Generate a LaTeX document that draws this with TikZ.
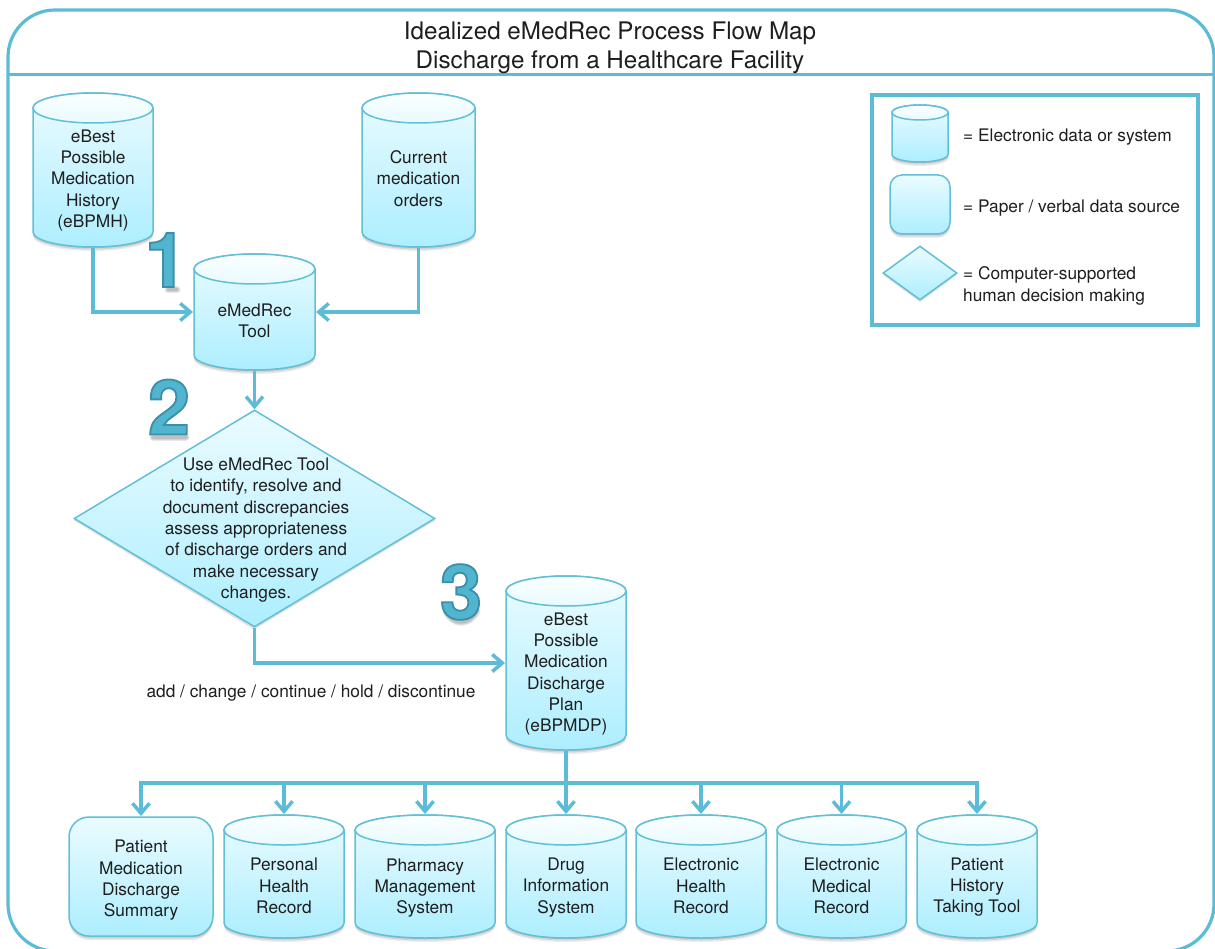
\documentclass[tikz,border=0pt]{standalone}
\usepackage{fontspec}
\setmainfont{TeX Gyre Heros}
\newfontfamily\numfont[FakeBold=2.4]{TeX Gyre Heros Bold}
\usetikzlibrary{arrows.meta,shapes.geometric}
\definecolor{edge}{HTML}{5CBBD6}
\definecolor{shapeline}{HTML}{62BFD8}
\definecolor{shtop}{HTML}{EAFBFF}
\definecolor{shbot}{HTML}{ADEEFF}
\definecolor{lidtop}{HTML}{E8FAFE}
\definecolor{lidbot}{HTML}{FBFFFF}
\definecolor{ink}{HTML}{1E1E1E}
\tikzset{
  x=1pt,y=-1pt,
  conn/.style={draw=edge,line width=3.5pt,line join=miter},
  flow/.style={conn,-{Straight Barb[length=10pt,width=17pt,line width=3.5pt]}},
  bodyfill/.style={draw=shapeline,line width=1.5pt,top color=shtop,bottom color=shbot,shading angle=0},
  lidfill/.style={draw=shapeline,line width=1.5pt,top color=lidbot,bottom color=lidtop},
  anchorbox/.style={inner sep=0pt,outer sep=1pt},
  txt/.style={font=\fontsize{17.3}{21.35}\selectfont,text=ink,align=center,inner sep=0pt},
  legendtxt/.style={font=\fontsize{17.3}{22}\selectfont,text=ink,align=left,inner sep=0pt,anchor=west},
  titletxt/.style={font=\fontsize{24.2}{29}\selectfont,text=ink,align=center,inner sep=0pt},
  bignum/.style={font=\fontsize{76}{76}\numfont,inner sep=0pt},
  numshadow/.style={draw=black,opacity=.09,line cap=round},
}
\newcommand{\cylshape}[6]{%
  \pgfmathsetmacro{\cx}{(#2+#4)/2}\pgfmathsetmacro{\crx}{(#4-#2)/2}%
  \pgfmathsetmacro{\ctop}{#3+#6}\pgfmathsetmacro{\cbot}{#5-#6}%
  \foreach \sh/\op in {1/.10,2.5/.10,4/.08}{%
    \fill[black,opacity=\op,yshift=-\sh pt]
      (#2,\ctop) -- (#2,\cbot) arc[start angle=180,end angle=360,x radius=\crx,y radius=-#6] -- (#4,\ctop) -- cycle;}
  \path[bodyfill] (#2,\ctop) -- (#2,\cbot) arc[start angle=180,end angle=360,x radius=\crx,y radius=-#6] -- (#4,\ctop) arc[start angle=0,end angle=180,x radius=\crx,y radius=-#6] -- cycle;
  \path[lidfill] (\cx,\ctop) ellipse[x radius=\crx,y radius=#6];
  \node[anchorbox,minimum width=#4-#2,minimum height=#5-#3] (#1) at (\cx,{(#3+#5)/2}) {};
}
\newcommand{\boxshape}[6]{%
  \pgfmathsetmacro{\cx}{(#2+#4)/2}%
  \foreach \sh/\op in {1/.10,2.5/.10,4/.08}{%
    \fill[black,opacity=\op,rounded corners=#6 pt,yshift=-\sh pt] (#2,#3) rectangle (#4,#5);}
  \path[bodyfill,rounded corners=#6 pt] (#2,#3) rectangle (#4,#5);
  \node[anchorbox,minimum width=#4-#2,minimum height=#5-#3] (#1) at (\cx,{(#3+#5)/2}) {};
}
\newcommand{\digit}[4]{%
  \node[bignum] (#1) at (#2,#3) {\special{pdf:bcolor [0.32 0.71 0.81] [0.23 0.56 0.66]}#4\special{pdf:ecolor}};
}
\begin{document}
\begin{tikzpicture}
\useasboundingbox (0,0) rectangle (1215,949);
\fill[white] (0,0) rectangle (1215,949);
\begin{scope}
\clip (0,0) rectangle (1215,949);
\draw[edge,line width=3.2pt,rounded corners=47pt] (8,10) rectangle (1214,951);
\end{scope}
\coordinate (hl) at (8,75);
\coordinate (hr) at (1214,75);
\draw[conn,line width=3pt] (hl) -- (hr);
\node[titletxt] (title) at (610,48) {Idealized eMedRec Process Flow Map\\Discharge from a Healthcare Facility};

% legend
\draw[edge,line width=3.5pt] (872,95) rectangle (1198,325);
\cylshape{legcyl}{892}{105}{948}{162}{7.5}
\boxshape{legbox}{890}{175}{950}{234}{12}
\fill[black,opacity=.12,yshift=-2pt] (883,273) -- (920,246) -- (957,273) -- (920,300) -- cycle;
\node[diamond,draw=shapeline,line width=1.5pt,top color=shtop,bottom color=shbot,minimum width=74pt,minimum height=54pt,inner sep=0pt,aspect=1.37] (legdia) at (920,273) {};
\node[legendtxt] (leg1) at (963,137) {= Electronic data or system};
\node[legendtxt] (leg2) at (963,208) {= Paper / verbal data source};
\node[legendtxt] (leg3) at (963,286) {= Computer-supported\\human decision making};

% upper shapes
\cylshape{bpmh}{33}{93}{153}{247}{15}
\node[txt] (bpmht) at (93,180.5) {eBest\\Possible\\Medication\\History\\(eBPMH)};
\cylshape{cmo}{362}{93}{475}{247}{15}
\node[txt] (cmot) at (418.5,178.5) {Current\\medication\\orders};
\cylshape{tool}{194}{254}{315}{370}{15}
\node[txt] (toolt) at (254.5,321) {eMedRec\\Tool};

% decision
\fill[black,opacity=.12,yshift=-2.5pt] (74,518) -- (254,410) -- (435,518) -- (254,627) -- cycle;
\node[diamond,draw=shapeline,line width=1.5pt,top color=shtop,bottom color=shbot,minimum width=361pt,minimum height=217pt,inner sep=0pt,aspect=1.66] (dec) at (254.5,518.5) {};
\node[txt] (dect) at (256,530) {Use eMedRec Tool\\to identify, resolve and\\document discrepancies\\assess appropriateness\\of discharge orders and\\make necessary\\changes.};

% plan
\cylshape{plan}{506}{576}{626}{750}{15}
\node[txt] (plant) at (566,674) {eBest\\Possible\\Medication\\Discharge\\Plan\\(eBPMDP)};
\node[txt] (actions) at (311,693) {add / change / continue / hold / discontinue};

% bottom row
\boxshape{pmds}{69}{817}{213}{936}{20}
\node[txt] (pmdst) at (141,880.5) {Patient\\Medication\\Discharge\\Summary};
\cylshape{phr}{224}{815}{344}{938}{15}
\node[txt] (phrt) at (284,886) {Personal\\Health\\Record};
\cylshape{pms}{355}{815}{495}{938}{15}
\node[txt] (pmst) at (425,888) {Pharmacy\\Management\\System};
\cylshape{dis}{506}{815}{626}{938}{15}
\node[txt] (dist) at (566,887.5) {Drug\\Information\\System};
\cylshape{ehr}{636}{815}{766}{938}{15}
\node[txt] (ehrt) at (701,886) {Electronic\\Health\\Record};
\cylshape{emr}{777}{815}{906}{938}{15}
\node[txt] (emrt) at (841.5,886) {Electronic\\Medical\\Record};
\cylshape{phtt}{917}{815}{1037}{938}{15}
\node[txt] (phttt) at (977,887) {Patient\\History\\Taking Tool};

% numeral shadows (soft edge under each numeral)
\foreach \w in {3,5,7}{
  \draw[numshadow,line width=\w pt] (168,290) -- (177,290);
  \draw[numshadow,line width=\w pt] (153,437) -- (186,437);
  \draw[numshadow,line width=\w pt] (446,611) .. controls (452,626) and (470,626) .. (477,611);
}
\digit{one}{166}{260}{1}
\digit{two}{169}{407}{2}
\digit{three}{461}{592}{3}

% connectors
\draw[flow] (bpmh.south) |- (tool.west);
\draw[flow] (cmo.south) |- (tool.east);
\draw[flow] (tool.south) -- (dec.north);
\draw[flow] (dec.south) |- (plan.west);
\coordinate (bus) at (566,783);
\draw[conn] (plan.south) -- (bus);
\draw[conn,line cap=rect] (pmds.north |- bus) -- (phtt.north |- bus);
\foreach \t in {pmds,phr,pms,dis,ehr,emr,phtt}{\draw[flow] (\t.north |- bus) -- (\t.north);}
\end{tikzpicture}
\end{document}
